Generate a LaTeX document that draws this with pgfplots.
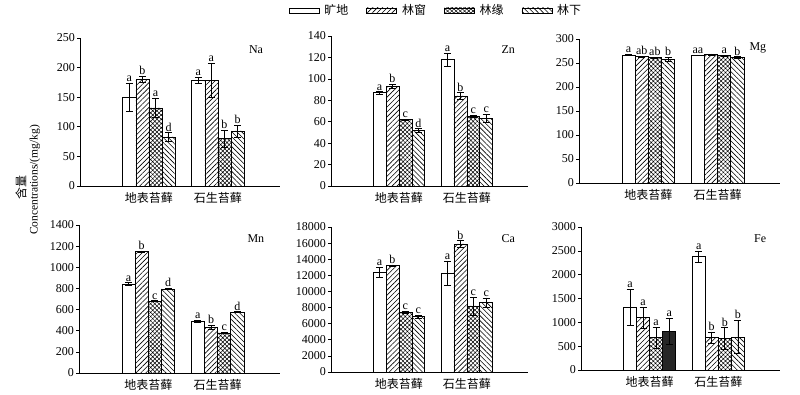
\documentclass[border=0pt]{standalone}
\usepackage{pgfplots}
\pgfplotsset{compat=1.18}
\usepackage{pgfplotstable}
\usetikzlibrary{patterns,patterns.meta}
\usepackage{fontspec}
\setmainfont{Liberation Serif}
\newfontfamily\cjk{Noto Sans CJK SC}

\pgfplotstableread{
g v1 e1 l1 v2 e2 l2 v3 e3 l3 v4 e4 l4
1 150 24 a 180 5 b 132 16 a 83 7 d
2 179 5 a 178 29 a 80 14 b 93 10 b
}\tNa
\pgfplotstableread{
g v1 e1 l1 v2 e2 l2 v3 e3 l3 v4 e4 l4
1 87 1 a 93 2 b 62 0.5 c 52 1.5 d
2 118 6 a 84 3 b 65 1 c 63 4 c
}\tZn
\pgfplotstableread{
g v1 e1 l1 v2 e2 l2 v3 e3 l3 v4 e4 l4
1 267 1 a 263 1 ab 261 1 ab 258 4 b
2 266 1 aa 268 1 {} 265 1 a 261 2 b
}\tMg
\pgfplotstableread{
g v1 e1 l1 v2 e2 l2 v3 e3 l3 v4 e4 l4
1 840 15 a 1150 5 b 680 5 c 795 5 d
2 490 10 a 435 20 b 380 5 c 575 5 d
}\tMn
\pgfplotstableread{
g v1 e1 l1 v2 e2 l2 v3 e3 l3 v4 e4 l4
1 12400 600 a 13200 100 b 7400 150 c 6900 200 c
2 12300 1500 a 15900 400 b 8200 1100 c 8600 600 c
}\tCa
\pgfplotstableread{
g v1 e1 l1 v2 e2 l2 v3 e3 l3 v4 e4 l4
1 1310 380 a 1100 220 a 680 220 a 810 280 a
2 2380 120 a 680 120 b 660 230 b 690 350 b
}\tFe

\tikzset{
  s1/.style={fill=white},
  s2/.style={pattern={Lines[angle=45,distance=3.5pt,line width=0.6pt]}},
  s3/.style={pattern={Hatch[angle=45,distance=3pt,line width=0.5pt]}},
  s4/.style={pattern={Lines[angle=-45,distance=3.5pt,line width=0.6pt]}},
  elem/.style={font=\fontsize{12}{13}\selectfont},
}

\newcommand{\bbar}[5]{%
 \addplot[forget plot, ybar, bar width=0.19, bar shift=0pt, draw=black, line width=0.6pt, #5,
   error bars/.cd, y dir=both, y explicit,
   error bar style={line width=0.6pt, black, solid},
   error mark options={rotate=90, mark size=3.5pt, line width=0.6pt, black}]
   table[x expr=\thisrow{g}+(#2), y=#3, y error=#4] {#1};
}
\newcommand{\blet}[5]{%
 \addplot[forget plot, only marks, mark=*, mark size=0pt, mark options={draw=none,fill=none},
   nodes near coords, point meta=explicit symbolic,
   nodes near coords style={anchor=south, inner sep=1.2pt, font=\fontsize{12}{13}\selectfont, black}]
   table[x expr=\thisrow{g}+(#2), y expr=\thisrow{#3}+\thisrow{#4}, meta=#5] {#1};
}
\newcommand{\allbars}[1]{%
 \bbar{#1}{-0.285}{v1}{e1}{s1}
 \bbar{#1}{-0.095}{v2}{e2}{s2}
 \bbar{#1}{0.095}{v3}{e3}{s3}
 \bbar{#1}{0.285}{v4}{e4}{s4}
}
\newcommand{\alllets}[1]{%
 \blet{#1}{-0.285}{v1}{e1}{l1}
 \blet{#1}{-0.095}{v2}{e2}{l2}
 \blet{#1}{0.095}{v3}{e3}{l3}
 \blet{#1}{0.285}{v4}{e4}{l4}
}

\pgfplotsset{
  panel/.style={
    scale only axis, anchor=south west,
    xmin=0, xmax=2.9, ymin=0,
    axis x line=bottom, axis y line=left,
    axis line style={-, line width=0.6pt, black},
    xtick={1,2}, xticklabels={地表苔藓,石生苔藓},
    x tick label style={font=\cjk\fontsize{12}{14}\selectfont},
    xtick style={draw=none},
    tick align=outside, major tick length=3pt,
    ytick style={black, line width=0.6pt},
    y tick label style={font=\fontsize{12}{13}\selectfont, inner xsep=2pt},
    scaled y ticks=false,
    /pgf/number format/assume math mode=true,
    /pgf/number format/1000 sep={},
    clip=false,
  },
}

\begin{document}
\begin{tikzpicture}
\useasboundingbox (0pt,0pt) rectangle (800pt,395pt);

\begin{axis}[panel, at={(80pt,209pt)}, width=200pt, height=148pt, ymax=250, ytick={0,50,...,250},
  legend image code/.code={\draw[#1] (0pt,-2.5pt) rectangle (30pt,2.5pt);},
  legend style={at={(1.78,1.186)}, anchor=center, draw=none, fill=none, legend columns=4,
    font=\cjk\fontsize{12}{13}\selectfont,
    /tikz/every odd column/.append style={column sep=3pt},
    /tikz/every even column/.append style={column sep=16pt}}]
\addlegendimage{draw=black, fill=white, line width=0.6pt}\addlegendentry{旷地}
\addlegendimage{draw=black, s2, line width=0.6pt}\addlegendentry{林窗}
\addlegendimage{draw=black, s3, line width=0.6pt}\addlegendentry{林缘}
\addlegendimage{draw=black, s4, line width=0.6pt}\addlegendentry{林下}
\allbars{\tNa}
\alllets{\tNa}
\node[elem] at (rel axis cs:0.88,0.92) {Na};
\end{axis}

\begin{axis}[panel, at={(331pt,209pt)}, width=197pt, height=150pt, ymax=140, ytick={0,20,...,140}]
\allbars{\tZn}
\alllets{\tZn}
\node[elem] at (rel axis cs:0.9,0.91) {Zn};
\end{axis}

\begin{axis}[panel, at={(579pt,212pt)}, width=201pt, height=144pt, ymax=300, ytick={0,50,...,300}]
\allbars{\tMg}
\alllets{\tMg}
\node[elem] at (rel axis cs:0.89,0.94) {Mg};
\end{axis}

\begin{axis}[panel, at={(79pt,22pt)}, width=201pt, height=148pt, ymax=1400, ytick={0,200,...,1400}]
\allbars{\tMn}
\alllets{\tMn}
\node[elem] at (rel axis cs:0.88,0.905) {Mn};
\end{axis}

\begin{axis}[panel, at={(331pt,23pt)}, width=197pt, height=145pt, ymax=18000, ytick={0,2000,...,18000}]
\allbars{\tCa}
\alllets{\tCa}
\node[elem] at (rel axis cs:0.9,0.92) {Ca};
\end{axis}

\begin{axis}[panel, at={(581pt,25pt)}, width=199pt, height=143pt, ymax=3000, ytick={0,500,...,3000}]
\bbar{\tFe}{-0.285}{v1}{e1}{s1}
\bbar{\tFe}{-0.095}{v2}{e2}{s2}
\bbar{\tFe}{0.095}{v3}{e3}{s3}
\bbar{\tFe}{0.285}{v4}{e4}{s4, restrict x to domain=1.5:3}
\bbar{\tFe}{0.285}{v4}{e4}{fill=black!85, restrict x to domain=0:1.5}
\alllets{\tFe}
\node[elem] at (rel axis cs:0.9,0.92) {Fe};
\end{axis}

\node[rotate=90, font=\cjk\fontsize{12}{13}\selectfont] at (21pt, 207pt) {含量};
\node[rotate=90, font=\fontsize{11.5}{13}\selectfont] at (35pt, 215pt) {Concentrations/(mg/kg)};
\end{tikzpicture}
\end{document}
